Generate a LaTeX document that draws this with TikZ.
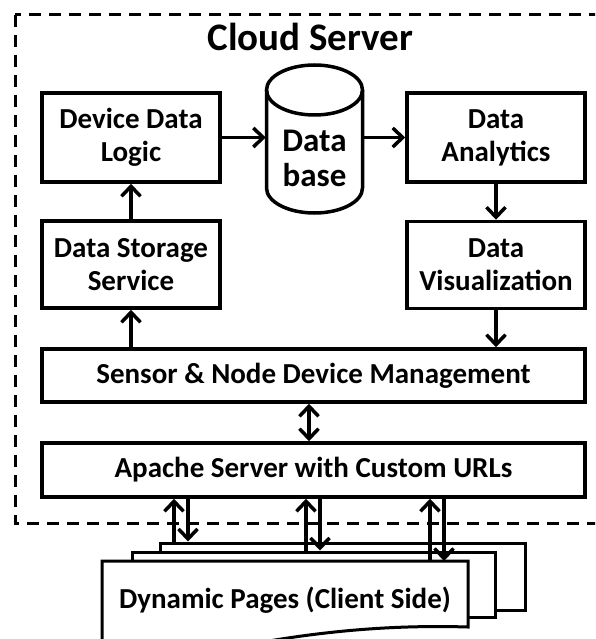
\documentclass[tikz,border=0pt]{standalone}
\usepackage{fontspec}
\setmainfont{Carlito}
\usetikzlibrary{arrows.meta}
\begin{document}
\begin{tikzpicture}[x=1pt,y=-1pt,
  box/.style={draw, line width=3.5pt, fill=white, align=center, inner sep=0pt,
    font=\bfseries\fontsize{29}{33}\selectfont},
  tip/.tip={Straight Barb[length=10pt,width=19pt,line width=3.5pt]},
  arr/.style={line width=3.5pt, -tip},
  darr/.style={line width=3.5pt, tip-tip},
  page/.style={draw, line width=3pt, fill=white},
  cyl/.style={draw, line width=3.5pt}]
\useasboundingbox (0,0) rectangle (595,639);
\fill[white] (0,0) rectangle (595,639);
\begin{scope}
\clip (0,0) rectangle (595,639);
% cloud server frame
\draw[line width=3pt, dash pattern=on 12pt off 8pt] (15,15) rectangle (640,523);
\node[font=\bfseries\fontsize{39}{44}\selectfont, anchor=base] (title) at (310.5,51) {Cloud Server};
% boxes
\node[box, minimum width=178pt, minimum height=89pt] (ddl) at (131,137.5) {Device Data\\Logic};
\node[box, minimum width=178pt, minimum height=87pt] (dss) at (131,264.5) {Data Storage\\Service};
\node[box, minimum width=178pt, minimum height=89pt] (da) at (496,137.5) {Data\\Analytics};
\node[box, minimum width=178pt, minimum height=87pt] (dv) at (496,265) {Data\\Visualization};
\node[box, minimum width=543pt, minimum height=53pt] (snm) at (313.5,375.5) {Sensor \& Node Device Management};
\node[box, minimum width=543pt, minimum height=54pt] (apache) at (313.5,470) {Apache Server with Custom URLs};
% database
\node[minimum width=97pt, minimum height=148pt, inner sep=0pt] (db) at (314.5,139) {};
\draw[cyl] (266.5,90) -- (266.5,188) arc[start angle=180,end angle=360,x radius=48pt,y radius=25pt] -- (362.5,90);
\draw[cyl] (314.5,90) ellipse[x radius=48pt, y radius=25pt];
\node[font=\bfseries\fontsize{33}{35}\selectfont, align=center, inner sep=0pt] (dbt) at (314.5,158) {Data\\base};
% pages
\node[page, minimum width=365pt, minimum height=67pt, inner sep=0pt] (p3) at (342.5,576.5) {};
\node[page, minimum width=363pt, minimum height=65pt, inner sep=0pt] (p2) at (313.5,584.5) {};
\draw[page] (102,561) -- (468,561) -- (468,627)
  .. controls (370,624) and (290,636) .. (220,650)
  .. controls (170,660) and (130,655) .. (102,650) -- cycle;
\node[minimum width=366pt, minimum height=78pt, inner sep=0pt, outer sep=0pt,
  font=\bfseries\fontsize{29}{33}\selectfont] (p1) at (285,600) {Dynamic Pages (Client Side)};
% connectors
\draw[arr] (ddl.east) -- (ddl.east -| db.west);
\draw[arr] (db.east |- da.west) -- (da.west);
\draw[arr] (dss.north) -- (ddl.south);
\draw[arr] (snm.north -| dss.south) -- (dss.south);
\draw[arr] (da.south) -- (dv.north);
\draw[arr] (dv.south) -- (dv.south |- snm.north);
\coordinate (c0) at (309,0);
\draw[darr] (snm.south -| c0) -- (apache.north -| c0);
\coordinate (u1) at (174,0); \coordinate (d1) at (188,0);
\coordinate (u2) at (306,0); \coordinate (d2) at (320,0);
\coordinate (u3) at (430,0); \coordinate (d3) at (444,0);
\draw[arr] (p3.north -| u1) -- (apache.south -| u1);
\draw[arr] (apache.south -| d1) -- (p3.north -| d1);
\draw[arr] (p2.north -| u2) -- (apache.south -| u2);
\draw[arr] (apache.south -| d2) -- (p2.north -| d2);
\draw[arr] (p1.north -| u3) -- (apache.south -| u3);
\draw[arr] (apache.south -| d3) -- (p1.north -| d3);
\end{scope}
\end{tikzpicture}
\end{document}
